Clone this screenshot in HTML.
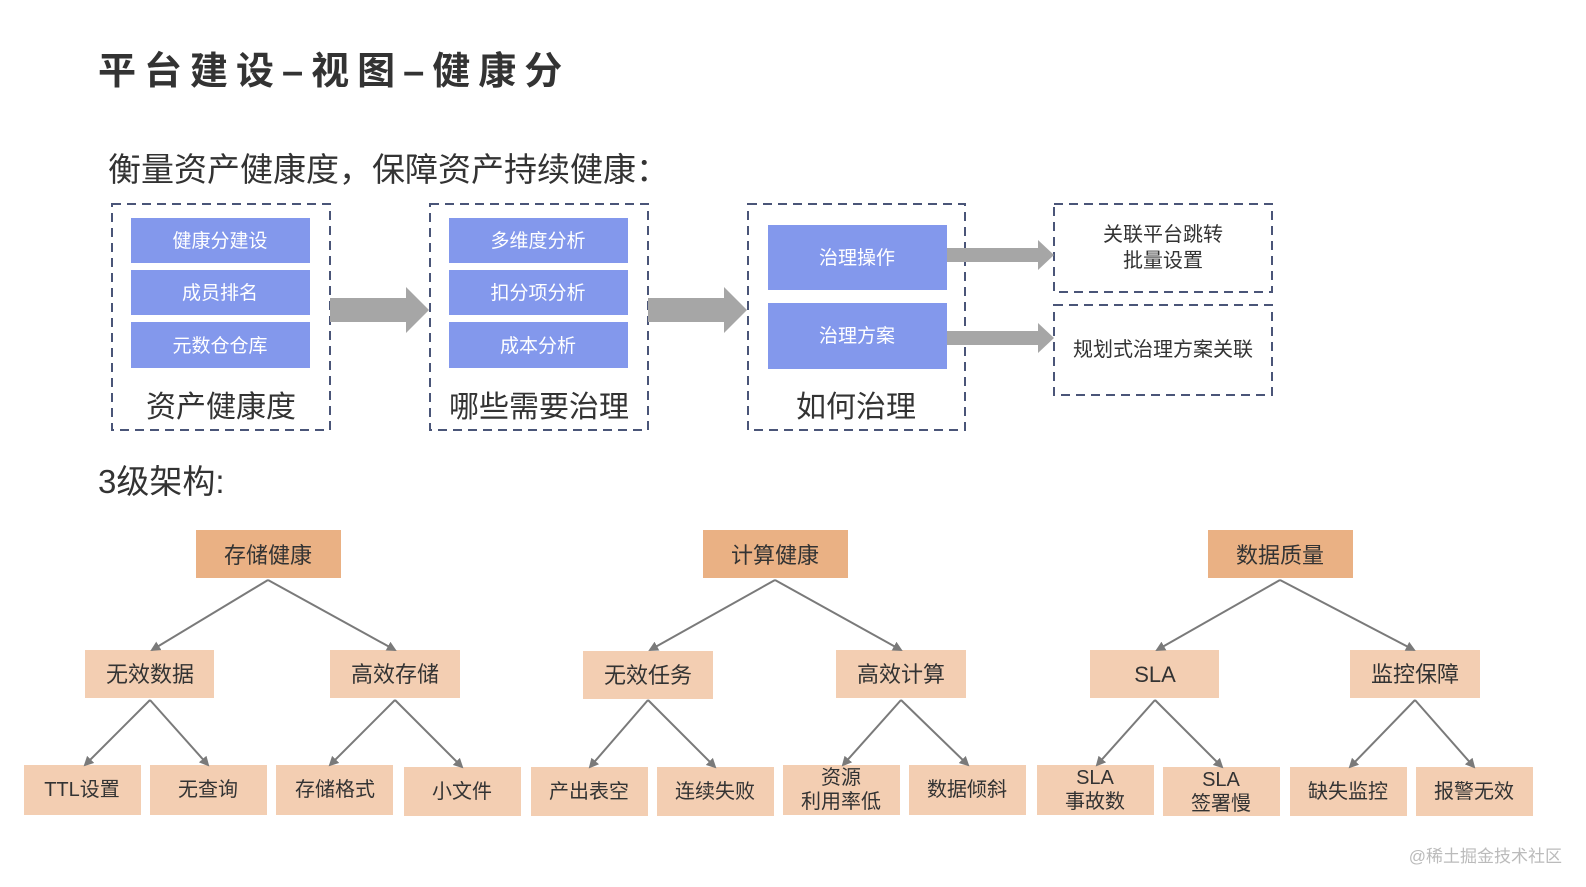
<!DOCTYPE html>
<html><head><meta charset="utf-8"><style>
html,body{margin:0;padding:0;background:#fff;}
svg text{font-family:"Liberation Sans","Noto Sans CJK SC",sans-serif;}
</style></head><body>
<svg width="1586" height="882" viewBox="0 0 1586 882" xmlns="http://www.w3.org/2000/svg">
<defs>
<marker id="ah" markerWidth="10" markerHeight="10" refX="8" refY="5" orient="auto" markerUnits="userSpaceOnUse"><path d="M0,0 L10,5 L0,10 z" fill="#7a7a7a"/></marker>
</defs>
<text x="98" y="84" font-size="38" font-weight="bold" fill="#333" letter-spacing="8">平台建设–视图–健康分</text>
<text x="108" y="181" font-size="33" fill="#333">衡量资产健康度，保障资产持续健康：</text>

<g fill="none" stroke="#4a5578" stroke-width="2" stroke-dasharray="9,6">
<rect x="112" y="204" width="218" height="226"/>
<rect x="430" y="204" width="218" height="226"/>
<rect x="748" y="204" width="217" height="226"/>
<rect x="1054" y="204" width="218" height="88"/>
<rect x="1054" y="305" width="218" height="90"/>
</g>
<g fill="#8398ec">
<rect x="131" y="218" width="179" height="45"/><rect x="131" y="270" width="179" height="45"/><rect x="131" y="322" width="179" height="46"/>
<rect x="449" y="218" width="179" height="45"/><rect x="449" y="270" width="179" height="45"/><rect x="449" y="322" width="179" height="46"/>
<rect x="768" y="225" width="179" height="65"/><rect x="768" y="303" width="179" height="66"/>
</g>
<g font-size="19" fill="#fff" text-anchor="middle">
<text x="220" y="247">健康分建设</text><text x="220" y="299">成员排名</text><text x="220" y="352">元数仓仓库</text>
<text x="538" y="247">多维度分析</text><text x="538" y="299">扣分项分析</text><text x="538" y="352">成本分析</text>
<text x="857" y="264">治理操作</text><text x="857" y="342">治理方案</text>
</g>
<g font-size="30" fill="#333" text-anchor="middle">
<text x="221" y="417">资产健康度</text><text x="539" y="417">哪些需要治理</text><text x="856" y="417">如何治理</text>
</g>
<g font-size="20" fill="#333" text-anchor="middle">
<text x="1163" y="241">关联平台跳转</text><text x="1163" y="267">批量设置</text>
<text x="1163" y="356">规划式治理方案关联</text>
</g>
<g fill="#a6a6a6">
<path d="M330,298 L406,298 L406,287 L429,310 L406,333 L406,322 L330,322 z"/>
<path d="M648,298 L724,298 L724,287 L747,310 L724,333 L724,322 L648,322 z"/>
<path d="M947,248 L1038,248 L1038,240 L1054,255 L1038,270 L1038,262 L947,262 z"/>
<path d="M947,331 L1038,331 L1038,323 L1054,338 L1038,353 L1038,345 L947,345 z"/>
</g>

<text x="98" y="493" font-size="33" fill="#333">3级架构:</text>

<g fill="#eab184">
<rect x="196" y="530" width="145" height="48"/><rect x="703" y="530" width="145" height="48"/><rect x="1208" y="530" width="145" height="48"/>
</g>
<g fill="#f3ceb2">
<rect x="85" y="650" width="129" height="48"/><rect x="330" y="650" width="130" height="48"/><rect x="583" y="651" width="130" height="48"/><rect x="836" y="650" width="130" height="48"/><rect x="1090" y="650" width="129" height="48"/><rect x="1350" y="650" width="130" height="48"/>
<rect x="24" y="765" width="117" height="50"/><rect x="150" y="765" width="117" height="50"/><rect x="276" y="765" width="117" height="50"/><rect x="404" y="767" width="117" height="49"/><rect x="531" y="767" width="117" height="49"/><rect x="657" y="767" width="117" height="49"/><rect x="783" y="765" width="117" height="50"/><rect x="909" y="765" width="117" height="50"/><rect x="1037" y="765" width="117" height="50"/><rect x="1163" y="767" width="117" height="49"/><rect x="1290" y="767" width="117" height="49"/><rect x="1416" y="767" width="117" height="49"/>
</g>
<g stroke="#7a7a7a" stroke-width="2" marker-end="url(#ah)" fill="none">
<line x1="268" y1="580" x2="152" y2="650"/><line x1="268" y1="580" x2="395" y2="650"/>
<line x1="775" y1="580" x2="650" y2="650"/><line x1="775" y1="580" x2="901" y2="650"/>
<line x1="1280" y1="580" x2="1157" y2="650"/><line x1="1280" y1="580" x2="1414" y2="650"/>
<line x1="150" y1="700" x2="85" y2="765"/><line x1="150" y1="700" x2="208" y2="765"/>
<line x1="395" y1="700" x2="330" y2="765"/><line x1="395" y1="700" x2="462" y2="767"/>
<line x1="648" y1="700" x2="590" y2="767"/><line x1="648" y1="700" x2="715" y2="767"/>
<line x1="901" y1="700" x2="843" y2="765"/><line x1="901" y1="700" x2="968" y2="765"/>
<line x1="1155" y1="700" x2="1097" y2="765"/><line x1="1155" y1="700" x2="1222" y2="767"/>
<line x1="1415" y1="700" x2="1350" y2="767"/><line x1="1415" y1="700" x2="1474" y2="767"/>
</g>
<g font-size="22" fill="#333" text-anchor="middle">
<text x="268" y="563">存储健康</text><text x="775" y="563">计算健康</text><text x="1280" y="563">数据质量</text>
<text x="150" y="682">无效数据</text><text x="395" y="682">高效存储</text><text x="648" y="683">无效任务</text><text x="901" y="682">高效计算</text><text x="1155" y="682">SLA</text><text x="1415" y="682">监控保障</text>
</g>
<g font-size="20" fill="#333" text-anchor="middle">
<text x="82" y="796">TTL设置</text><text x="208" y="796">无查询</text><text x="335" y="796">存储格式</text><text x="462" y="798">小文件</text><text x="589" y="798">产出表空</text><text x="715" y="798">连续失败</text>
<text x="841" y="784">资源</text><text x="841" y="808">利用率低</text><text x="967" y="796">数据倾斜</text>
<text x="1095" y="784">SLA</text><text x="1095" y="808">事故数</text><text x="1221" y="786">SLA</text><text x="1221" y="810">签署慢</text>
<text x="1348" y="798">缺失监控</text><text x="1474" y="798">报警无效</text>
</g>
<text x="1562" y="862" font-size="17" fill="#bbb" text-anchor="end">@稀土掘金技术社区</text>
</svg>
</body></html>
